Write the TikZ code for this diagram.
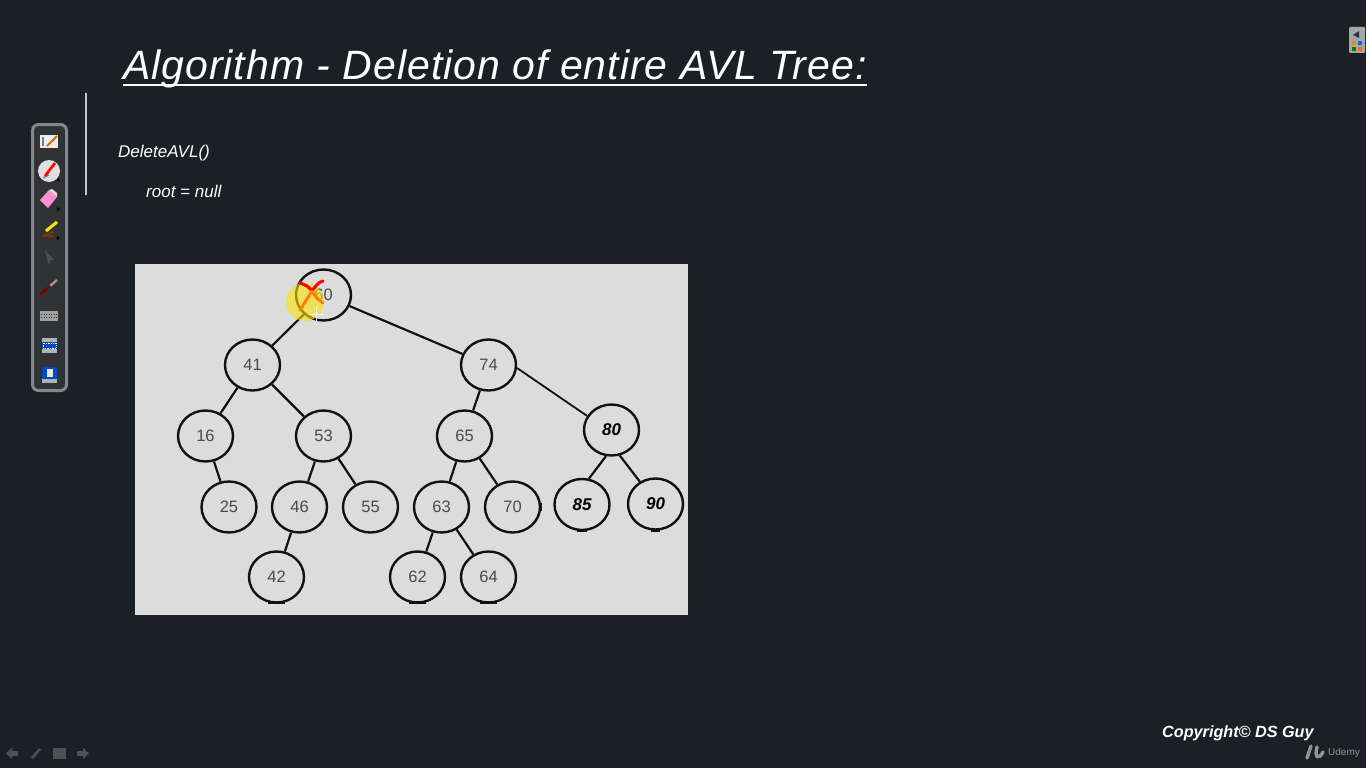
\documentclass[tikz,border=0pt]{standalone}
\usepackage{fontspec}
\setmainfont{Liberation Sans}
\usetikzlibrary{shapes.geometric}
\definecolor{slidebg}{HTML}{1C2024}
\definecolor{panelbg}{HTML}{DCDCDC}
\definecolor{treeink}{HTML}{111111}
\definecolor{numink}{HTML}{4A4A4A}
\definecolor{barbg}{HTML}{303336}
\definecolor{barrim}{HTML}{85878A}
\definecolor{slateicon}{HTML}{4A5060}
\begin{document}
\begin{tikzpicture}[x=1pt,y=-1pt]
		\tikzset{
			treenode/.style={draw=treeink, ellipse, line width=2.4pt, fill=panelbg, minimum width=55pt, minimum height=51pt, inner sep=0pt, text=numink, font=\fontsize{16.5}{17}\selectfont},
			boldnode/.style={treenode, text=black, font=\fontsize{17}{17}\selectfont\bfseries\itshape},
			treeedge/.style={draw=treeink, line width=2.2pt},
			nodetick/.style={draw=treeink, line width=3.4pt},
			slidetext/.style={anchor=west, inner sep=0pt, text=white, font=\fontsize{17}{17}\selectfont\itshape},
			navicon/.style={fill=white!22!slidebg, draw=none},
			menudot/.style={fill=black}
		}
		\fill[slidebg] (0,0) rectangle (1366,768);
		\useasboundingbox (0,0) rectangle (1366,768);

		\node[anchor=west, inner sep=0pt, text=white, font=\fontsize{41}{41}\selectfont\itshape\addfontfeature{LetterSpace=2.45}] (title) at (123,69) {Algorithm - Deletion of entire AVL Tree:};
		\draw[white, line width=2.6pt] (123,85) -- (867,85);
		\draw[white!75!slidebg, line width=2pt] (85.5,93) -- (85.5,195);
		\node[slidetext] (fname) at (118,153) {DeleteAVL()};
		\node[slidetext] (rootline) at (146,191.5) {root = null};

		\fill[panelbg] (135,263.5) rectangle (688,614.5);
		\node[treenode] (n60) at (323.5,295) {60};
		\node[treenode] (n41) at (252.5,365) {41};
		\node[treenode] (n74) at (488.5,365) {74};
		\node[treenode] (n16) at (205.5,436) {16};
		\node[treenode] (n53) at (323.5,436) {53};
		\node[treenode] (n65) at (464.5,436) {65};
		\node[boldnode] (n80) at (611.5,430) {80};
		\node[treenode] (n25) at (229,507) {25};
		\node[treenode] (n46) at (299.5,507) {46};
		\node[treenode] (n55) at (370.5,507) {55};
		\node[treenode] (n63) at (441.5,507) {63};
		\node[treenode] (n70) at (512.5,507) {70};
		\node[boldnode] (n85) at (582,504.5) {85};
		\node[boldnode] (n90) at (655.5,504) {90};
		\node[treenode] (n42) at (276.5,577) {42};
		\node[treenode] (n62) at (417.5,577) {62};
		\node[treenode] (n64) at (488.5,577) {64};

		\draw[treeedge] (n60) -- (n41);
		\draw[treeedge] (n60) -- (n74);
		\draw[treeedge] (n41) -- (n16);
		\draw[treeedge] (n41) -- (n53);
		\draw[treeedge] (n16) -- (n25);
		\draw[treeedge] (n53) -- (n46);
		\draw[treeedge] (n53) -- (n55);
		\draw[treeedge] (n46) -- (n42);
		\draw[treeedge] (n74) -- (n65);
		\draw[treeedge, line width=1.8pt] (n74.-6) -- (n80.150);
		\draw[treeedge] (n65) -- (n63);
		\draw[treeedge] (n65) -- (n70);
		\draw[treeedge] (n63) -- (n62);
		\draw[treeedge] (n63) -- (n64);
		\draw[treeedge] (n80.-102) -- (n85.75);
		\draw[treeedge] (n80.-72) -- (n90.125);

		\draw[nodetick] (n42.-108) -- (n42.-72);
		\draw[nodetick] (n62.-108) -- (n62.-72);
		\draw[nodetick] (n64.-108) -- (n64.-72);
		\draw[nodetick, line width=2.6pt] (n85.-100) -- (n85.-80);
		\draw[nodetick, line width=2.6pt] (n90.-100) -- (n90.-80);
		\draw[nodetick, line width=2.6pt] (n70.-8) -- (n70.8);

		\fill[yellow!85!orange, opacity=0.6] (305,302) circle (19);
		\draw[red, line width=3pt, line cap=round] (300,283) .. controls (306,285) and (309,287) .. (312,291);
		\draw[red, line width=3pt, line cap=round] (323,281) .. controls (318,282) and (315,287) .. (312,291);
		\draw[orange, line width=3pt, line cap=round] (312,291) .. controls (308,297) and (304,304) .. (300,310);
		\draw[orange, line width=3pt, line cap=round] (312,291) .. controls (315,296) and (318,300) .. (323,303);
		\draw[white, line width=1pt] (316,307) -- (316,321) (309,314) -- (323,314);

		\draw[barrim, fill=barbg, line width=3pt, rounded corners=6pt] (32.5,124.5) rectangle (66.5,390.5);
		\fill[white!85!gray] (40,135) rectangle (58,148);
		\draw[gray, line width=1.2pt] (43,137) -- (43,146);
		\draw[orange!85!black, line width=2pt] (47,146) -- (57,136);
		\fill[white!75!gray] (49,171) circle (11);
		\draw[gray, line width=1.2pt] (43,178) -- (49,175);
		\draw[red, line width=2.6pt] (45,176) -- (55,163);
		\fill[menudot] (57,178) -- (60,180) -- (57,182) -- cycle;
		\fill[pink!75!magenta] (40,200) -- (48,208) -- (57,197) -- (49,190) -- cycle;
		\fill[white!75!gray] (49,190) -- (57,197) -- (57,193) -- (52,189) -- cycle;
		\fill[menudot] (57,207) -- (60,209) -- (57,211) -- cycle;
		\draw[yellow!85!orange, line width=3pt] (46,231) -- (57,222);
		\draw[orange!45!black, line width=2pt] (42,236) -- (54,232) (44,236) -- (54,236);
		\fill[menudot] (57,236) -- (60,238) -- (57,240) -- cycle;
		\fill[slateicon] (45,250) -- (54,260) -- (50,260) -- (50,265) -- (47,259) -- cycle;
		\draw[gray!80!white, line width=2.4pt] (50,286) -- (57,280);
		\draw[red!50!black, line width=2.4pt] (40,295) -- (50,286);
		\fill[gray!75!white] (40,311) rectangle (58,321);
		\draw[gray!40!black, line width=0.5pt, dotted] (41,314) -- (57,314) (41,317) -- (57,317);
		\fill[gray!60!white] (42,338) rectangle (57,353);
		\fill[blue!60!cyan!75!black] (42,342) rectangle (57,349);
		\draw[white, line width=0.7pt, densely dotted] (43,343) rectangle (56,348);
		\fill[gray!60!white] (42,367) rectangle (57,383);
		\fill[blue!60!cyan!75!black] (42,367) rectangle (57,379);
		\fill[white!80!gray] (47,369) rectangle (53,377);

		\fill[gray!70!white, rounded corners=1pt] (1349,27) rectangle (1365,53);
		\fill[barbg] (1359,31) -- (1353,35) -- (1359,38) -- cycle;
		\fill[orange] (1352,41) rectangle (1356,45);
		\fill[blue!60!cyan] (1358,41) rectangle (1362,45);
		\fill[green!50!black] (1352,47) rectangle (1356,51);
		\fill[orange!85!red] (1358,47) rectangle (1362,51);

		\fill[navicon] (6,753.5) -- (12,748) -- (12,751) -- (18,751) -- (18,756) -- (12,756) -- (12,759) -- cycle;
		\draw[white!22!slidebg, line width=2.5pt] (32,758) -- (40,749);
		\fill[navicon] (53,748) rectangle (66,759);
		\fill[navicon] (89,753.5) -- (83,748) -- (83,751) -- (77,751) -- (77,756) -- (83,756) -- (83,759) -- cycle;

		\node[anchor=west, inner sep=0pt, text=white, font=\fontsize{16.2}{16}\selectfont\bfseries\itshape] (copy) at (1162,733) {Copyright© DS Guy};
		\node[anchor=west, inner sep=0pt, text=gray!85!white, font=\fontsize{10}{10}\selectfont] (brand) at (1328,752.5) {Udemy};
		\draw[gray!85!white, line width=3.4pt, line cap=round] (1311,746) -- (1307,758) (1317,747) .. controls (1314,758) and (1319,760) .. (1323,752);
\end{tikzpicture}
\end{document}
